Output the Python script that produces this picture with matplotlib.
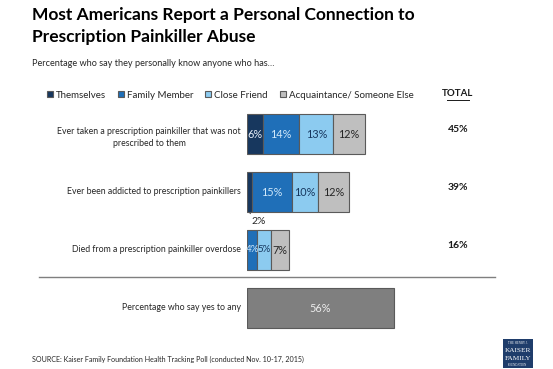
import numpy as np
import matplotlib
matplotlib.use("Agg")
import matplotlib.pyplot as plt
from matplotlib.patches import Rectangle
from matplotlib.lines import Line2D
import matplotlib.transforms as mtransforms

# ----- data -----
questions = ["Ever taken a prescription painkiller that was not\nprescribed to them",
             "Ever been addicted to prescription painkillers",
             "Died from a prescription painkiller overdose"]
groups = ["Themselves", "Family Member", "Close Friend", "Acquaintance/ Someone Else"]
themselves = [6, 2, 0]
family = [14, 15, 4]
friend = [13, 10, 5]
acquaint = [12, 12, 7]
totals = [45, 39, 16]
any_label = "Percentage who say yes to any"
any_value = 56

colors = ["#17375E", "#1F6FB8", "#8CCBF0", "#BFBFBF"]
txt_colors = ["#E8F0FA", "#CFE8FA", "#17375E", "#262626"]
edge = "#5A5A5A"

W, H = 553, 369
fx = lambda px: px / W
fy = lambda py: 1 - py / H

plt.rcParams["font.family"] = ["Lato", "DejaVu Sans"]
fig = plt.figure(figsize=(W / 100, H / 100), dpi=100)
fig.patch.set_facecolor("white")

# bar axes: 0% at x=247px, 2.62 px per %, rows 58 px apart starting at y=105px
ax = fig.add_axes([fx(247), fy(337), 262 / W, 232 / H])
ax.set_xlim(0, 100)
ax.set_ylim(3.5, -0.5)
ax.axis("off")

series = [themselves, family, friend, acquaint]
ypos = np.arange(len(questions))
left = np.zeros(len(questions))
handles = []
for vals, c, tc, name in zip(series, colors, txt_colors, groups):
    vals = np.array(vals, dtype=float)
    bars = ax.barh(ypos, vals, left=left, height=0.69, color=c,
                   edgecolor=edge, linewidth=0.8, label=name)
    handles.append(bars)
    for y, v, l in zip(ypos, vals, left):
        if v == 0:
            continue
        if v < 3:
            # small segment: label below with a leader line
            ax.annotate(f"{v:.0f}%", xy=(l + v / 2, y + 0.36),
                        xytext=(l + v / 2 + 3.5, y + 0.5), fontsize=7.5,
                        ha="center", va="center", color="#262626",
                        arrowprops=dict(arrowstyle="-", color="#404040", lw=0.6))
        else:
            ax.text(l + v / 2, y, f"{v:.0f}%", ha="center", va="center",
                    fontsize=7.8 if v >= 6 else 7, color=tc)
    left += vals

# "any" bar
ax.barh(3, any_value, height=0.69, color="#7F7F7F", edgecolor=edge, linewidth=0.8)
ax.text(any_value / 2, 3, f"{any_value}%", ha="center", va="center",
        fontsize=7.8, color="#EDEDED")

# category labels, right aligned just left of the bars
lab_tr = mtransforms.offset_copy(ax.transData, fig=fig, x=-6, y=0, units="dots")
for y, q in zip(ypos, questions):
    ax.text(0, y + (0.06 if "\n" in q else 0), q, transform=lab_tr, ha="right",
            va="center", multialignment="center", fontsize=6.3, color="#262626",
            linespacing=1.35)
ax.text(0, 3, any_label, transform=lab_tr, ha="right", va="center",
        fontsize=6.3, color="#262626")

# total column
tot_tr = mtransforms.blended_transform_factory(fig.transFigure, ax.transData)
for y, t in zip(ypos, totals):
    ax.text(fx(458), y - 0.07, f"{t}%", transform=tot_tr, ha="center", va="center",
            fontsize=7.5, fontweight="bold", color="#1a1a1a")
fig.text(fx(458), fy(94), "TOTAL", ha="center", va="center", fontsize=7,
         fontweight="bold", color="#1a1a1a")
fig.add_artist(Line2D([fx(447), fx(469)], [fy(99.5), fy(99.5)],
                      transform=fig.transFigure, color="#1a1a1a", lw=0.7))

# separator
fig.add_artist(Line2D([fx(39), fx(495)], [fy(277), fy(277)],
                      transform=fig.transFigure, color="#7F7F7F", lw=1.0))

# legend
fig.legend(handles=handles, labels=groups, loc="center left",
           bbox_to_anchor=(fx(47), fy(95)), ncol=4, frameon=False,
           fontsize=7, handlelength=0.6, handleheight=0.6, handletextpad=0.3,
           columnspacing=1.25, borderaxespad=0, borderpad=0, labelcolor="#262626")

# titles
fig.text(fx(32), fy(15), "Most Americans Report a Personal Connection to",
         fontsize=12.5, fontweight="bold", va="center", ha="left", color="black")
fig.text(fx(32), fy(37), "Prescription Painkiller Abuse",
         fontsize=12.5, fontweight="bold", va="center", ha="left", color="black")
fig.text(fx(32), fy(63), "Percentage who say they personally know anyone who has\u2026",
         fontsize=6.6, va="center", ha="left", color="#262626")

# source
fig.text(fx(32), fy(359),
         "SOURCE: Kaiser Family Foundation Health Tracking Poll (conducted Nov. 10-17, 2015)",
         fontsize=5.1, va="center", ha="left", color="#262626")

# logo
fig.add_artist(Rectangle((fx(503), fy(368)), 30 / W, 29 / H, transform=fig.transFigure,
                         facecolor="#1F3D6B", edgecolor="none"))
logo_font = ["Liberation Serif", "DejaVu Serif"]
fig.text(fx(518), fy(343), "THE HENRY J.", fontsize=2.2, ha="center", va="center",
         color="white", family=logo_font)
fig.text(fx(518), fy(350), "KAISER", fontsize=5.2, ha="center", va="center",
         color="white", family=logo_font)
fig.text(fx(518), fy(358), "FAMILY", fontsize=5.2, ha="center", va="center",
         color="white", family=logo_font)
fig.text(fx(518), fy(364.5), "FOUNDATION", fontsize=2.2, ha="center", va="center",
         color="white", family=logo_font)

fig.savefig("out.png", dpi=100)
